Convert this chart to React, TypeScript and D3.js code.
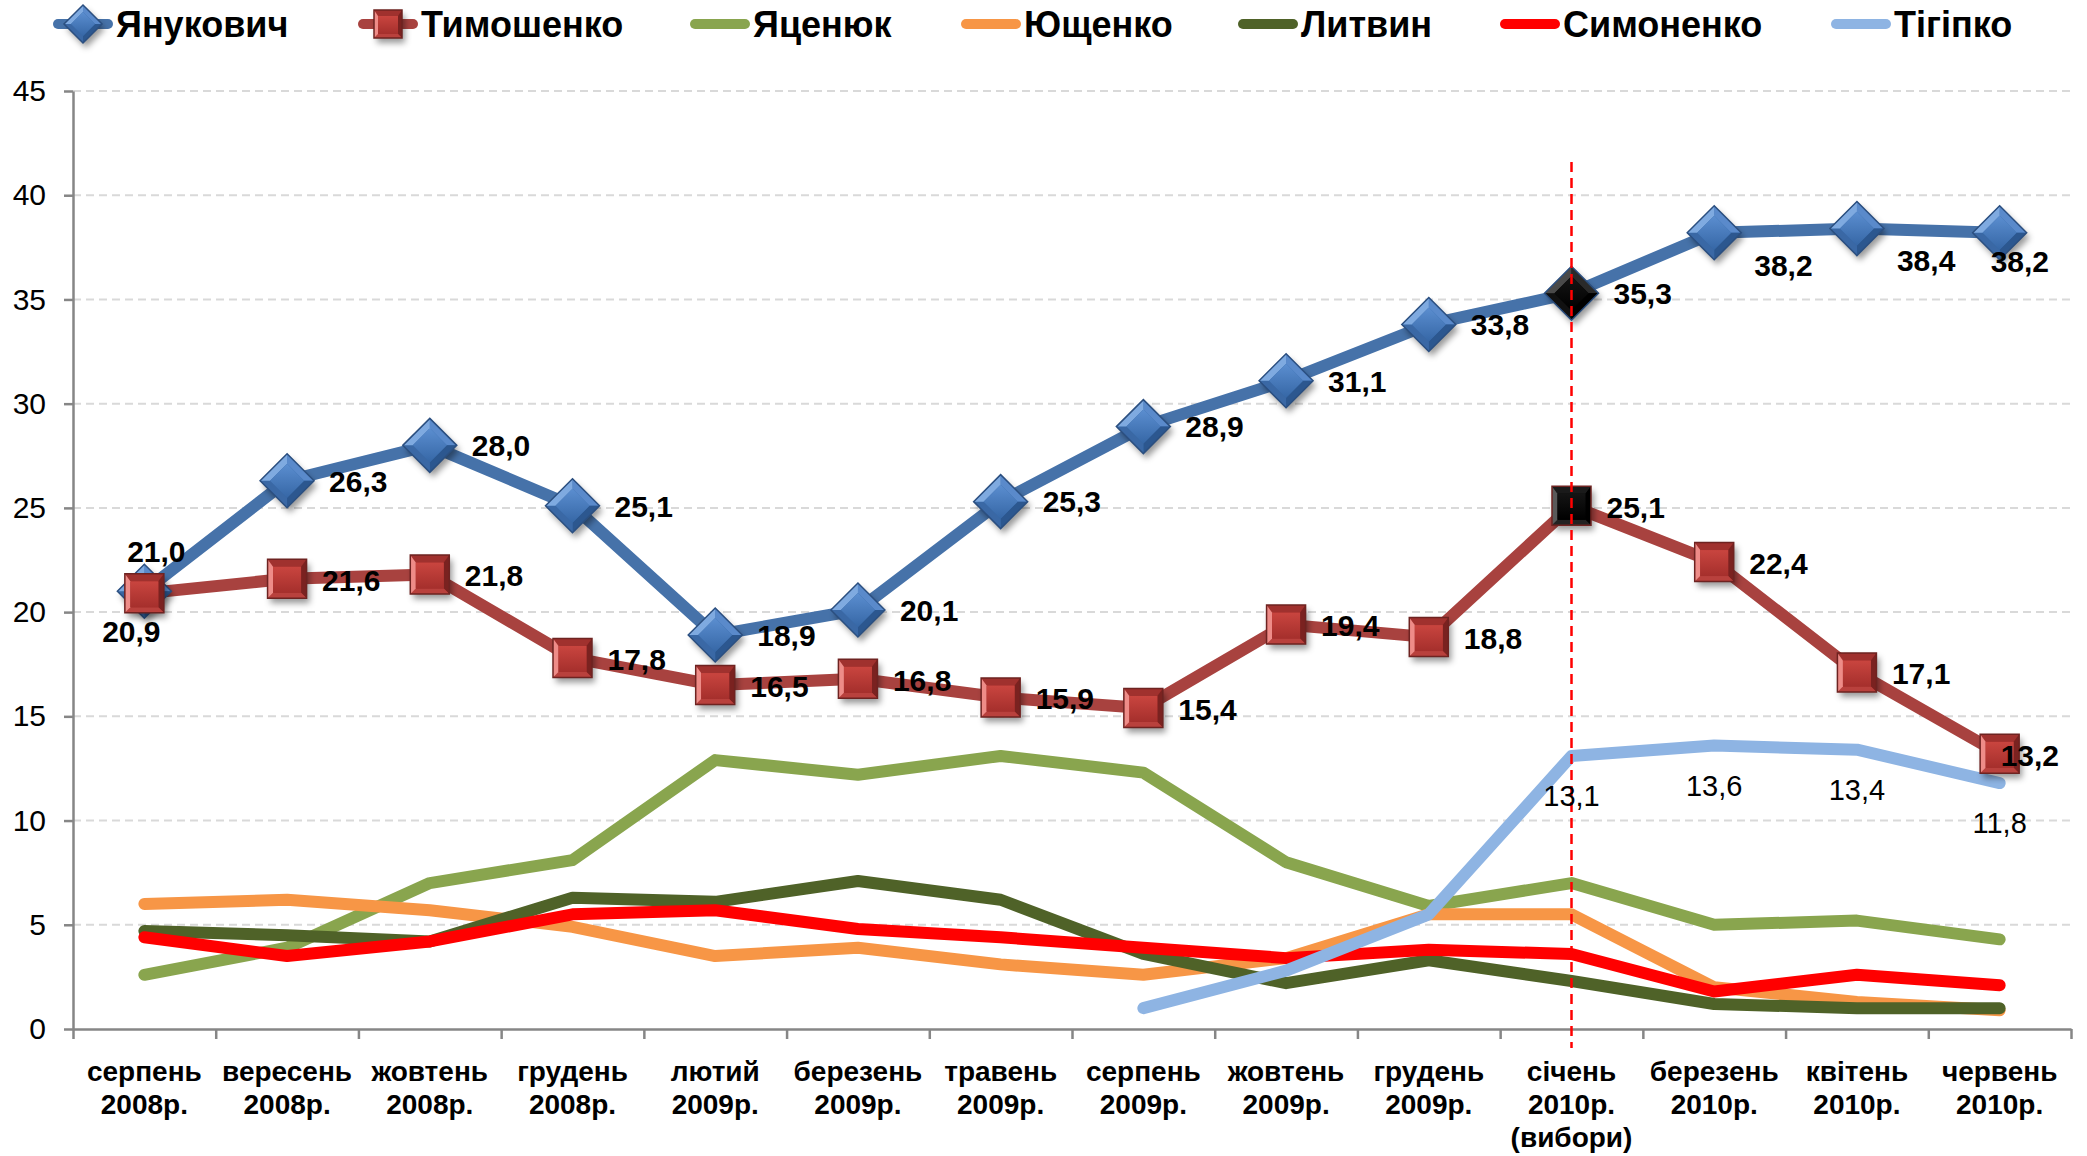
import React, { useEffect, useRef } from 'react';
import * as d3 from 'd3';

const W = 2087;
const H = 1156;

// category labels (lines of each tick label)
const categories = [
  ['серпень', '2008р.'],
  ['вересень', '2008р.'],
  ['жовтень', '2008р.'],
  ['грудень', '2008р.'],
  ['лютий', '2009р.'],
  ['березень', '2009р.'],
  ['травень', '2009р.'],
  ['серпень', '2009р.'],
  ['жовтень', '2009р.'],
  ['грудень', '2009р.'],
  ['січень', '2010р.', '(вибори)'],
  ['березень', '2010р.'],
  ['квітень', '2010р.'],
  ['червень', '2010р.'],
];

const yanukovych = [21.0, 26.3, 28.0, 25.1, 18.9, 20.1, 25.3, 28.9, 31.1, 33.8, 35.3, 38.2, 38.4, 38.2];
const tymoshenko = [20.9, 21.6, 21.8, 17.8, 16.5, 16.8, 15.9, 15.4, 19.4, 18.8, 25.1, 22.4, 17.1, 13.2];
const yatseniuk = [2.6, 3.9, 7.0, 8.1, 12.9, 12.2, 13.1, 12.3, 8.0, 5.9, 7.0, 5.0, 5.2, 4.3];
const yushchenko = [6.0, 6.2, 5.7, 4.9, 3.5, 3.9, 3.1, 2.6, 3.4, 5.5, 5.5, 2.0, 1.3, 0.9];
const lytvyn = [4.7, 4.5, 4.2, 6.3, 6.1, 7.1, 6.2, 3.6, 2.2, 3.3, 2.3, 1.2, 1.0, 1.0];
const symonenko = [4.4, 3.5, 4.2, 5.5, 5.7, 4.8, 4.4, 3.9, 3.4, 3.8, 3.6, 1.8, 2.6, 2.1];
const tihipko = [null, null, null, null, null, null, null, 1.0, 2.8, 5.5, 13.1, 13.6, 13.4, 11.8];

const yTicks = [0, 5, 10, 15, 20, 25, 30, 35, 40, 45];
const electionIndex = 10;

// where each data label sits relative to its point
const yanukLabelPos = ['above', 'right', 'right', 'right', 'right', 'right', 'right', 'right', 'right', 'right', 'right', 'rightBelow', 'rightBelow', 'edge'];
const tymoLabelPos = ['below', 'right', 'right', 'right', 'right', 'right', 'right', 'right', 'right', 'right', 'right', 'right', 'right', 'edge'];
const tihipkoLabeled = [false, false, false, false, false, false, false, false, false, false, true, true, true, true];

const legendNames = ['Янукович', 'Тимошенко', 'Яценюк', 'Ющенко', 'Литвин', 'Симоненко', 'Тігіпко'];
const legendX = [116, 421, 753, 1024, 1301, 1563, 1894];

const FONT = '"Liberation Sans", Arial, sans-serif';
const fmt = (v: number) => v.toFixed(1).replace('.', ',');

const blueFacets = { ul: '#7FAAE0', ur: '#5A8ACB', lr: '#2C578F', ll: '#3A68A5', top: '#5B8ED0', bot: '#3667A6', edge: '#2B4F80' };
const blackDiamond = { ul: '#4a4a4a', ur: '#2a2a2a', lr: '#000', ll: '#111', top: '#151515', bot: '#000', edge: '#2B4F80' };
const redFacets = { ul: '#EE8C88', ur: '#A0312E', lr: '#7A2220', ll: '#B9413D', top: '#C9453F', bot: '#A52F2C', edge: '#6E2321' };
const blackSquare = { ul: '#5a5a5a', ur: '#1a1a1a', lr: '#000', ll: '#222', top: '#141414', bot: '#000', edge: '#6E2321' };

const App = () => {
  const svgRef = useRef<SVGSVGElement>(null);

  useEffect(() => {
    if (!svgRef.current) return;
    const svg = d3.select(svgRef.current);
    svg.selectAll('*').remove();

    const n = categories.length;
    const x = d3.scaleBand<number>().domain(d3.range(n)).range([73, 2071]);
    const cx = (i: number) => (x(i) as number) + x.bandwidth() / 2;
    const y = d3.scaleLinear().domain([0, 45]).range([1029, 91]);
    const xEdge = d3.scaleLinear().domain([0, n]).range([73, 2071]);

    const defs = svg.append('defs');
    const shadow = defs.append('filter').attr('id', 'shadow').attr('x', '-50%').attr('y', '-50%').attr('width', '200%').attr('height', '200%');
    shadow.append('feDropShadow').attr('dx', 3).attr('dy', 5).attr('stdDeviation', 3).attr('flood-color', '#000').attr('flood-opacity', 0.4);

    let gradId = 0;
    const grad = (top: string, bot: string) => {
      const id = `g${gradId++}`;
      const lg = defs.append('linearGradient').attr('id', id).attr('x1', 0).attr('y1', 0).attr('x2', 0).attr('y2', 1);
      lg.append('stop').attr('offset', '0%').attr('stop-color', top);
      lg.append('stop').attr('offset', '100%').attr('stop-color', bot);
      return `url(#${id})`;
    };

    // gridlines
    svg.append('g')
      .selectAll('line')
      .data(yTicks.filter(t => t > 0))
      .enter().append('line')
      .attr('x1', 73).attr('x2', 2071)
      .attr('y1', d => y(d)).attr('y2', d => y(d))
      .attr('stroke', '#D9D9D9').attr('stroke-width', 2).attr('stroke-dasharray', '8,5');

    // y axis
    const yAxis = svg.append('g')
      .attr('transform', 'translate(73,0)')
      .call(d3.axisLeft(y).tickValues(yTicks).tickSize(9).tickSizeOuter(0).tickPadding(18).tickFormat(d3.format('d')));
    yAxis.select('.domain').attr('stroke', '#868686').attr('stroke-width', 2.5);
    yAxis.selectAll('.tick line').attr('stroke', '#868686').attr('stroke-width', 2.5);
    yAxis.selectAll('.tick text').attr('font-family', FONT).attr('font-size', 30).attr('fill', '#000');

    // x axis
    const xAxis = svg.append('g')
      .attr('transform', `translate(0,${y(0)})`)
      .call(d3.axisBottom(xEdge).tickValues(d3.range(n + 1)).tickSize(10).tickSizeOuter(0).tickFormat(() => ''));
    xAxis.select('.domain').attr('stroke', '#868686').attr('stroke-width', 2.5);
    xAxis.selectAll('.tick line').attr('stroke', '#868686').attr('stroke-width', 2.5);

    const xLabels = svg.append('g');
    categories.forEach((lines, i) => {
      const t = xLabels.append('text')
        .attr('x', cx(i)).attr('y', 1081)
        .attr('text-anchor', 'middle')
        .attr('font-family', FONT).attr('font-weight', 'bold').attr('font-size', 28).attr('fill', '#000');
      lines.forEach((ln, k) => {
        t.append('tspan').attr('x', cx(i)).attr('dy', k === 0 ? 0 : 33).text(ln);
      });
    });

    // lines
    const line = d3.line<number | null>()
      .defined(d => d !== null)
      .x((_, i) => cx(i))
      .y(d => y(d as number));

    const smallSeries = [
      { values: yatseniuk, color: '#89A54E' },
      { values: yushchenko, color: '#F79646' },
      { values: lytvyn, color: '#4F6228' },
      { values: symonenko, color: '#FF0000' },
      { values: tihipko, color: '#8EB4E3' },
    ];
    const bigSeries = [
      { values: yanukovych, color: '#4672A9' },
      { values: tymoshenko, color: '#A8423F' },
    ];

    [...bigSeries, ...smallSeries].forEach(s => {
      svg.append('path')
        .datum(s.values as (number | null)[])
        .attr('d', line)
        .attr('fill', 'none')
        .attr('stroke', s.color)
        .attr('stroke-width', 12)
        .attr('stroke-linecap', 'round')
        .attr('stroke-linejoin', 'round');
    });

    // bevelled markers
    type Facets = typeof blueFacets;
    const bevel = (g: any, outer: [number, number][], inner: [number, number][], c: Facets) => {
      const m = g.append('g').attr('filter', 'url(#shadow)');
      const fc = [c.ur, c.lr, c.ll, c.ul];
      m.append('polygon').attr('points', outer.map(p => p.join(',')).join(' ')).attr('fill', c.bot);
      for (let k = 0; k < 4; k++) {
        const a = outer[k], b = outer[(k + 1) % 4], bi = inner[(k + 1) % 4], ai = inner[k];
        g.append('polygon').attr('points', [a, b, bi, ai].map(p => p.join(',')).join(' ')).attr('fill', fc[k]);
      }
      g.append('polygon').attr('points', inner.map(p => p.join(',')).join(' ')).attr('fill', grad(c.top, c.bot));
      g.append('polygon').attr('points', outer.map(p => p.join(',')).join(' '))
        .attr('fill', 'none').attr('stroke', c.edge).attr('stroke-width', 1.5);
    };

    const diamond = (g: any, px: number, py: number, R: number, r: number, c: Facets) => {
      const o: [number, number][] = [[px, py - R], [px + R, py], [px, py + R], [px - R, py]];
      const inn: [number, number][] = [[px, py - r], [px + r, py], [px, py + r], [px - r, py]];
      bevel(g, o, inn, c);
    };
    const square = (g: any, px: number, py: number, R: number, r: number, c: Facets) => {
      const o: [number, number][] = [[px - R, py - R], [px + R, py - R], [px + R, py + R], [px - R, py + R]];
      const inn: [number, number][] = [[px - r, py - r + 2], [px + r, py - r + 2], [px + r, py + r], [px - r, py + r]];
      bevel(g, o, inn, c);
    };

    const markers = svg.append('g');
    yanukovych.forEach((v, i) => diamond(markers.append('g'), cx(i), y(v), 27, 17, i === electionIndex ? blackDiamond : blueFacets));
    tymoshenko.forEach((v, i) => square(markers.append('g'), cx(i), y(v), 19.5, 14, i === electionIndex ? blackSquare : redFacets));

    // election day marker
    svg.append('line')
      .attr('x1', cx(electionIndex)).attr('x2', cx(electionIndex))
      .attr('y1', 162).attr('y2', 1048)
      .attr('stroke', '#FF0000').attr('stroke-width', 2.5).attr('stroke-dasharray', '10,6');

    // data labels
    const labels = svg.append('g').attr('font-family', FONT).attr('font-size', 30).attr('fill', '#000');
    const offs: Record<string, [number, number, string]> = {
      above: [12, -40, 'middle'],
      below: [-13, 38, 'middle'],
      right: [42, 0, 'start'],
      rightBelow: [40, 32, 'start'],
      edge: [-9, 28, 'start'],
    };
    yanukovych.forEach((v, i) => {
      const [dx, dy, anchor] = offs[yanukLabelPos[i]];
      labels.append('text').attr('x', cx(i) + dx).attr('y', y(v) + dy).attr('dy', '0.36em')
        .attr('text-anchor', anchor).attr('font-weight', 'bold').text(fmt(v));
    });
    const offsSq: Record<string, [number, number, string]> = {
      below: [-13, 38, 'middle'],
      right: [35, 1, 'start'],
      edge: [1, 1, 'start'],
    };
    tymoshenko.forEach((v, i) => {
      const [dx, dy, anchor] = offsSq[tymoLabelPos[i]];
      labels.append('text').attr('x', cx(i) + dx).attr('y', y(v) + dy).attr('dy', '0.36em')
        .attr('text-anchor', anchor).attr('font-weight', 'bold').text(fmt(v));
    });
    tihipko.forEach((v, i) => {
      if (v === null || !tihipkoLabeled[i]) return;
      labels.append('text').attr('x', cx(i)).attr('y', y(v) + 40).attr('dy', '0.36em')
        .attr('text-anchor', 'middle').attr('font-size', 29).text(fmt(v));
    });

    // legend
    const legendColors = ['#4672A9', '#A8423F', '#89A54E', '#F79646', '#4F6228', '#FF0000', '#8EB4E3'];
    const legend = svg.append('g');
    legendNames.forEach((name, i) => {
      const tx = legendX[i];
      const g = legend.append('g');
      g.append('line')
        .attr('x1', tx - 58).attr('x2', tx - 8).attr('y1', 24).attr('y2', 24)
        .attr('stroke', legendColors[i]).attr('stroke-width', 10).attr('stroke-linecap', 'round');
      if (i === 0) diamond(g, tx - 33, 24, 19, 12, blueFacets);
      if (i === 1) square(g, tx - 33, 24, 14, 10, redFacets);
      g.append('text')
        .attr('x', tx).attr('y', 37)
        .attr('font-family', FONT).attr('font-weight', 'bold').attr('font-size', 36).attr('fill', '#000')
        .text(name);
    });
  }, []);

  return (
    <div style={{ position: 'absolute', left: 0, top: 0 }}>
      <svg ref={svgRef} width={W} height={H} style={{ display: 'block', background: '#fff' }} />
    </div>
  );
};

export default App;
